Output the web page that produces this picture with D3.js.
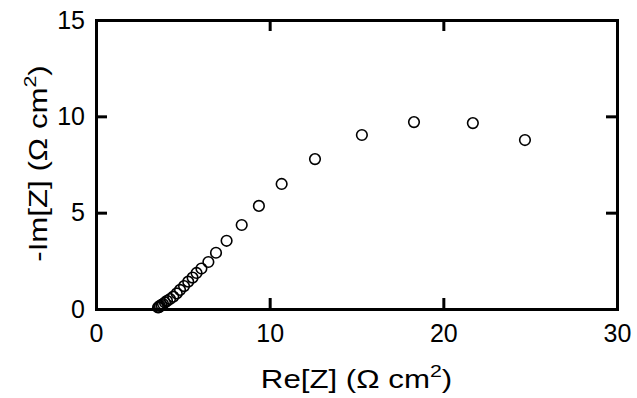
<!DOCTYPE html>
<html lang="en">
<head>
<meta charset="utf-8">
<title>Nyquist plot</title>
<script src="https://cdn.jsdelivr.net/npm/d3@7"></script>
<style>
  body { margin: 0; background: #fff; }
  svg text { font-family: "Liberation Sans", Arial, Helvetica, sans-serif; fill: #000; }
</style>
</head>
<body>
<div id="chart"></div>
<script>
  // impedance data
  var reZ = [24.70, 21.70, 18.31, 15.31, 12.61, 10.69, 9.38, 8.39, 7.52, 6.91, 6.47, 6.07, 5.79, 5.56, 5.31, 5.07, 4.84, 4.65, 4.45, 4.26, 4.09, 3.97, 3.86, 3.77, 3.68, 3.63, 3.57]
  var imZ = [8.77, 9.65, 9.70, 9.03, 7.78, 6.49, 5.35, 4.36, 3.54, 2.92, 2.44, 2.10, 1.87, 1.63, 1.42, 1.19, 0.99, 0.81, 0.64, 0.52, 0.42, 0.34, 0.26, 0.21, 0.16, 0.10, 0.08]
  var xTicks = [0, 10, 20, 30]
  var yTicks = [0, 5, 10, 15]

  var width = 637, height = 398
  var margin = {left: 96, right: 20, top: 20, bottom: 89}

  var svg = d3.select("#chart").append("svg")
    .attr("width", width).attr("height", height)

  var x = d3.scaleLinear().domain([0, 30]).range([margin.left, width - margin.right])
  var y = d3.scaleLinear().domain([0, 15]).range([height - margin.bottom, margin.top])

  var tickLen = 11

  // axes on all four sides, ticks inward
  function styleAxis(g) {
    g.selectAll("path").attr("stroke", "#000").attr("stroke-width", 3)
    g.selectAll("line").attr("stroke", "#000").attr("stroke-width", 3)
    g.selectAll("text").attr("font-size", 25).attr("font-family", "Liberation Sans, Arial, sans-serif")
  }

  svg.append("g")
    .attr("transform", "translate(0," + y(0) + ")")
    .call(d3.axisBottom(x).tickValues(xTicks).tickSizeInner(-tickLen).tickSizeOuter(0).tickPadding(15))
    .call(styleAxis)
  svg.append("g")
    .attr("transform", "translate(0," + y(15) + ")")
    .call(d3.axisTop(x).tickValues([10, 20]).tickSizeInner(-tickLen).tickSizeOuter(0).tickFormat(""))
    .call(styleAxis)
  svg.append("g")
    .attr("transform", "translate(" + x(0) + ",0)")
    .call(d3.axisLeft(y).tickValues(yTicks).tickSizeInner(-tickLen).tickSizeOuter(0).tickPadding(11))
    .call(styleAxis)
  svg.append("g")
    .attr("transform", "translate(" + x(30) + ",0)")
    .call(d3.axisRight(y).tickValues([5, 10]).tickSizeInner(-tickLen).tickSizeOuter(0).tickFormat(""))
    .call(styleAxis)

  svg.selectAll(".domain").attr("stroke-linecap", "square")

  // points
  var pts = reZ.map(function(d, i) { return {re: d, im: imZ[i]} })
  svg.selectAll("circle.pt")
    .data(pts)
    .enter()
    .append("circle")
    .attr("class", "pt")
    .attr("cx", function(d) { return x(d.re) })
    .attr("cy", function(d) { return y(d.im) })
    .attr("r", 5.3)
    .attr("fill", "none")
    .attr("stroke", "#000")
    .attr("stroke-width", 1.6)

  // axis titles, the picture's lettering is wider than Liberation Sans
  function title(g, label) {
    var t = g.append("text")
      .attr("text-anchor", "middle")
      .attr("font-size", 25)
    t.append("tspan").text(label)
    t.append("tspan").attr("font-size", 17).attr("dy", -11).text("2")
    t.append("tspan").attr("dy", 11).text(")")
  }

  title(svg.append("g")
    .attr("transform", "translate(" + (x(0) + x(30)) / 2 + ",388) scale(1.25,1)"), "Re[Z] (\u03A9 cm")

  title(svg.append("g")
    .attr("transform", "translate(47," + ((y(0) + y(15)) / 2 - 1) + ") rotate(-90) scale(1.25,1)"), "-Im[Z] (\u03A9 cm")
</script>
</body>
</html>
